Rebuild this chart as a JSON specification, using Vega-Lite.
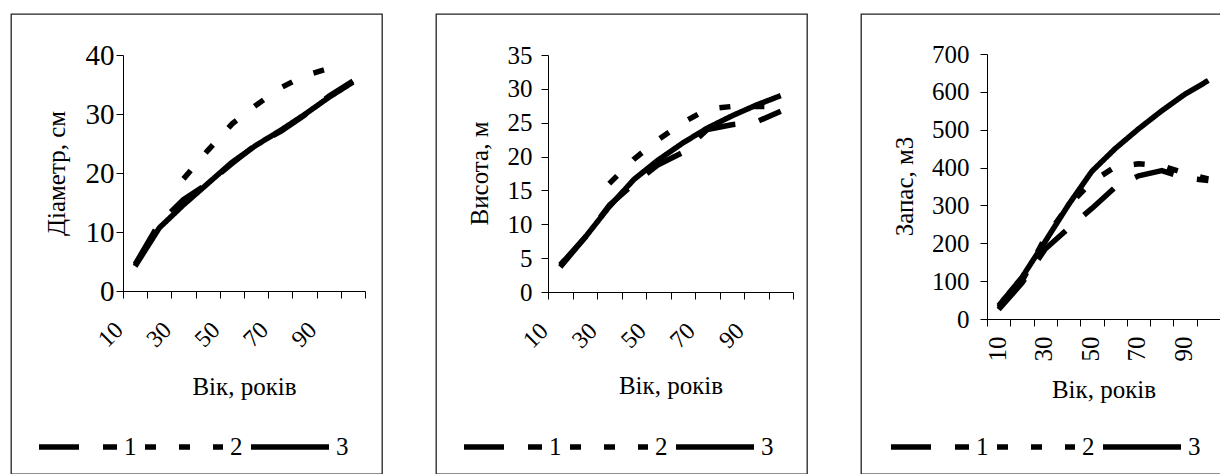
{
  "$schema": "https://vega.github.io/schema/vega-lite/v6.json",
  "background": "white",
  "padding": {"left": 10, "top": 13, "right": 0, "bottom": 0},
  "config": {
    "view": {"stroke": "#222", "strokeWidth": 1.3},
    "font": "Liberation Serif, Times New Roman, serif",
    "axis": {
      "domainColor": "black",
      "tickColor": "black",
      "labelColor": "black",
      "titleColor": "black",
      "labelFont": "Liberation Serif, Times New Roman, serif",
      "titleFont": "Liberation Serif, Times New Roman, serif",
      "titleFontWeight": "normal",
      "grid": false,
      "tickSize": 7,
      "domainWidth": 1,
      "tickWidth": 1,
      "labelOverlap": false,
      "labelFlush": false,
      "labelBound": false
    },
    "legend": {
      "orient": "none",
      "direction": "horizontal",
      "title": null,
      "symbolType": "stroke",
      "symbolSize": 6084,
      "symbolStrokeWidth": 5,
      "symbolStrokeColor": "black",
      "labelFont": "Liberation Serif, Times New Roman, serif",
      "labelFontSize": 25,
      "labelColor": "black",
      "labelOffset": 4,
      "columnPadding": 5,
      "padding": 0
    },
    "line": {"color": "black", "strokeWidth": 5.5, "strokeCap": "butt", "strokeJoin": "round"}
  },
  "datasets": {
    "diameter": [
      {"age": 10, "series": "1", "value": 4.5}, {"age": 20, "series": "1", "value": 11.5}, {"age": 30, "series": "1", "value": 15.5},
      {"age": 40, "series": "1", "value": 18.2}, {"age": 50, "series": "1", "value": 21.6}, {"age": 60, "series": "1", "value": 24.8},
      {"age": 70, "series": "1", "value": 27.0}, {"age": 80, "series": "1", "value": 29.8}, {"age": 90, "series": "1", "value": 33.0},
      {"age": 100, "series": "1", "value": 35.6},
      {"age": 30, "series": "2", "value": 19.0}, {"age": 40, "series": "2", "value": 23.8}, {"age": 50, "series": "2", "value": 28.3},
      {"age": 60, "series": "2", "value": 31.5}, {"age": 70, "series": "2", "value": 34.4}, {"age": 80, "series": "2", "value": 36.5},
      {"age": 90, "series": "2", "value": 37.7},
      {"age": 10, "series": "3", "value": 4.2}, {"age": 20, "series": "3", "value": 10.7}, {"age": 30, "series": "3", "value": 14.6},
      {"age": 40, "series": "3", "value": 18.2}, {"age": 50, "series": "3", "value": 21.8}, {"age": 60, "series": "3", "value": 24.7},
      {"age": 70, "series": "3", "value": 27.2}, {"age": 80, "series": "3", "value": 29.9}, {"age": 90, "series": "3", "value": 32.8},
      {"age": 100, "series": "3", "value": 35.4}
    ],
    "height": [
      {"age": 10, "series": "1", "value": 3.7}, {"age": 20, "series": "1", "value": 8.0}, {"age": 30, "series": "1", "value": 12.8},
      {"age": 40, "series": "1", "value": 16.0}, {"age": 50, "series": "1", "value": 18.8}, {"age": 60, "series": "1", "value": 20.6},
      {"age": 70, "series": "1", "value": 24.0}, {"age": 80, "series": "1", "value": 24.7}, {"age": 90, "series": "1", "value": 25.1},
      {"age": 100, "series": "1", "value": 26.7},
      {"age": 30, "series": "2", "value": 16.0}, {"age": 40, "series": "2", "value": 19.6}, {"age": 50, "series": "2", "value": 22.5},
      {"age": 60, "series": "2", "value": 25.0}, {"age": 70, "series": "2", "value": 27.0}, {"age": 80, "series": "2", "value": 27.4},
      {"age": 90, "series": "2", "value": 27.4}, {"age": 100, "series": "2", "value": 27.4},
      {"age": 10, "series": "3", "value": 4.0}, {"age": 20, "series": "3", "value": 8.0}, {"age": 30, "series": "3", "value": 12.6},
      {"age": 40, "series": "3", "value": 16.6}, {"age": 50, "series": "3", "value": 19.5}, {"age": 60, "series": "3", "value": 22.0},
      {"age": 70, "series": "3", "value": 24.2}, {"age": 80, "series": "3", "value": 26.0}, {"age": 90, "series": "3", "value": 27.6},
      {"age": 100, "series": "3", "value": 29.0}
    ],
    "volume": [
      {"age": 10, "series": "1", "value": 25}, {"age": 20, "series": "1", "value": 95}, {"age": 30, "series": "1", "value": 185},
      {"age": 40, "series": "1", "value": 240}, {"age": 50, "series": "1", "value": 292}, {"age": 60, "series": "1", "value": 348},
      {"age": 70, "series": "1", "value": 378}, {"age": 80, "series": "1", "value": 392}, {"age": 90, "series": "1", "value": 372},
      {"age": 100, "series": "1", "value": 366},
      {"age": 10, "series": "2", "value": 30}, {"age": 20, "series": "2", "value": 100}, {"age": 30, "series": "2", "value": 215},
      {"age": 40, "series": "2", "value": 300}, {"age": 50, "series": "2", "value": 362}, {"age": 60, "series": "2", "value": 402},
      {"age": 70, "series": "2", "value": 410}, {"age": 80, "series": "2", "value": 405}, {"age": 90, "series": "2", "value": 385},
      {"age": 100, "series": "2", "value": 370},
      {"age": 10, "series": "3", "value": 35}, {"age": 20, "series": "3", "value": 110}, {"age": 30, "series": "3", "value": 205},
      {"age": 40, "series": "3", "value": 302}, {"age": 50, "series": "3", "value": 390}, {"age": 60, "series": "3", "value": 450},
      {"age": 70, "series": "3", "value": 502}, {"age": 80, "series": "3", "value": 550}, {"age": 90, "series": "3", "value": 594},
      {"age": 100, "series": "3", "value": 630}
    ]
  },
  "spacing": 52,
  "resolve": {"scale": {"strokeDash": "independent", "x": "independent", "y": "independent"}, "legend": {"strokeDash": "independent"}},
  "hconcat": [
    {
      "width": 371,
      "height": 460,
      "data": {"name": "diameter"},
      "mark": {"type": "line"},
      "encoding": {
        "x": {
          "field": "age", "type": "quantitative",
          "scale": {"domain": [5, 105], "range": [112, 354], "nice": false, "zero": false},
          "axis": {
            "orient": "bottom", "offset": -183,
            "values": [5, 15, 25, 35, 45, 55, 65, 75, 85, 95, 105],
            "labelExpr": "datum.value < 100 && (datum.value - 5) % 20 == 0 ? format(datum.value + 5, 'd') : ''",
            "labelAngle": -45, "labelAlign": "right", "labelBaseline": "middle",
            "labelOffset": -4, "labelPadding": 28, "labelFontSize": 24,
            "title": "Вік, років", "titleFontSize": 25, "titleX": 233, "titleY": 95,
            "titleAlign": "center", "titleBaseline": "middle"
          }
        },
        "y": {
          "field": "value", "type": "quantitative",
          "scale": {"domain": [0, 40], "range": [277, 41], "nice": false},
          "axis": {
            "orient": "left", "offset": -112,
            "values": [0, 10, 20, 30, 40],
            "labelFontSize": 29, "labelPadding": 2,
            "title": "Діаметр, см", "titleFontSize": 25, "titleAngle": -90,
            "titleX": -67, "titleY": 159, "titleAlign": "center", "titleBaseline": "middle"
          }
        },
        "strokeDash": {
          "field": "series", "type": "nominal",
          "scale": {"domain": ["1", "2", "3"], "range": [[40, 24], [11, 23], [1, 0]]},
          "legend": {"legendX": 25, "legendY": 391}
        }
      }
    },
    {
      "width": 371,
      "height": 460,
      "data": {"name": "height"},
      "mark": {"type": "line"},
      "encoding": {
        "x": {
          "field": "age", "type": "quantitative",
          "scale": {"domain": [5, 105], "range": [112, 357], "nice": false, "zero": false},
          "axis": {
            "orient": "bottom", "offset": -182,
            "values": [5, 15, 25, 35, 45, 55, 65, 75, 85, 95, 105],
            "labelExpr": "datum.value < 100 && (datum.value - 5) % 20 == 0 ? format(datum.value + 5, 'd') : ''",
            "labelAngle": -45, "labelAlign": "right", "labelBaseline": "middle",
            "labelOffset": -4, "labelPadding": 28, "labelFontSize": 24,
            "title": "Вік, років", "titleFontSize": 25, "titleX": 234.5, "titleY": 93,
            "titleAlign": "center", "titleBaseline": "middle"
          }
        },
        "y": {
          "field": "value", "type": "quantitative",
          "scale": {"domain": [0, 35], "range": [278, 41], "nice": false},
          "axis": {
            "orient": "left", "offset": -112,
            "values": [0, 5, 10, 15, 20, 25, 30, 35],
            "labelFontSize": 25, "labelPadding": 9,
            "title": "Висота, м", "titleFontSize": 25, "titleAngle": -90,
            "titleX": -69, "titleY": 159, "titleAlign": "center", "titleBaseline": "middle"
          }
        },
        "strokeDash": {
          "field": "series", "type": "nominal",
          "scale": {"domain": ["1", "2", "3"], "range": [[40, 24], [11, 23], [1, 0]]},
          "legend": {"legendX": 25, "legendY": 391}
        }
      }
    },
    {
      "width": 371,
      "height": 460,
      "data": {"name": "volume"},
      "mark": {"type": "line"},
      "encoding": {
        "x": {
          "field": "age", "type": "quantitative",
          "scale": {"domain": [5, 105], "range": [126, 359], "nice": false, "zero": false},
          "axis": {
            "orient": "bottom", "offset": -155,
            "values": [5, 15, 25, 35, 45, 55, 65, 75, 85, 95, 105],
            "labelExpr": "datum.value < 100 && (datum.value - 5) % 20 == 0 ? format(datum.value + 5, 'd') : ''",
            "labelAngle": -90, "labelAlign": "right", "labelBaseline": "middle",
            "labelOffset": 10, "labelPadding": 10, "labelFontSize": 25,
            "title": "Вік, років", "titleFontSize": 25, "titleX": 242.5, "titleY": 70,
            "titleAlign": "center", "titleBaseline": "middle"
          }
        },
        "y": {
          "field": "value", "type": "quantitative",
          "scale": {"domain": [0, 700], "range": [305, 40], "nice": false},
          "axis": {
            "orient": "left", "offset": -126,
            "values": [0, 100, 200, 300, 400, 500, 600, 700],
            "labelFontSize": 25, "labelPadding": 11,
            "title": "Запас, м3", "titleFontSize": 25, "titleAngle": -90,
            "titleX": -83, "titleY": 172, "titleAlign": "center", "titleBaseline": "middle"
          }
        },
        "strokeDash": {
          "field": "series", "type": "nominal",
          "scale": {"domain": ["1", "2", "3"], "range": [[40, 24], [11, 23], [1, 0]]},
          "legend": {"legendX": 27, "legendY": 391}
        }
      }
    }
  ]
}
